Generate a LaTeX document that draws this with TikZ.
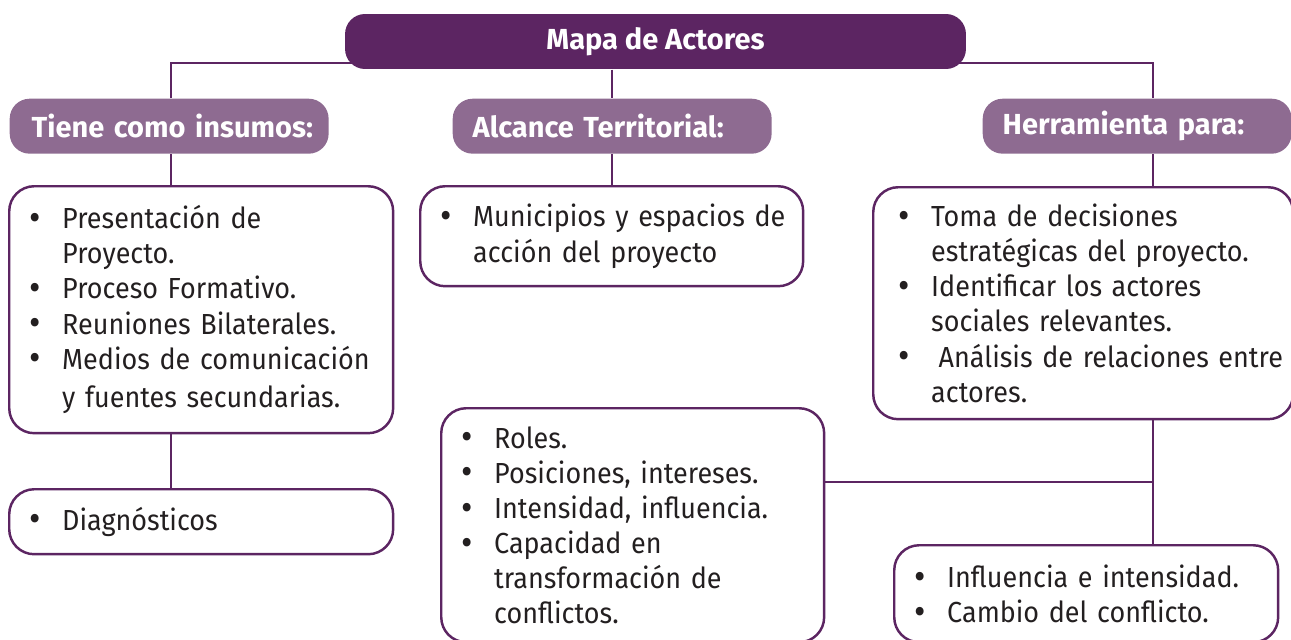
\documentclass[tikz,border=0pt]{standalone}
\usepackage{fontspec}
\setmainfont{Fira Sans}
\newfontfamily\cuerpo{Fira Sans}[FakeStretch=0.93]
\usetikzlibrary{positioning,backgrounds}

\definecolor{moradoosc}{HTML}{5C2562}
\definecolor{moradocl}{HTML}{8E6B91}
\definecolor{texto}{HTML}{231F20}

\newcommand{\itm}[1]{\makebox[0.66cm][l]{\smash{\raisebox{-0.06em}{\scalebox{1.3}{\textbullet}}}}\mbox{#1}}
\newcommand{\sig}[1]{\hspace*{0.66cm}\mbox{#1}}
\newcommand{\letra}{\fontsize{16.5}{20}\selectfont}

\begin{document}
\begin{tikzpicture}[x=0.02cm,y=-0.02cm,thick,
    title node/.style={fill=moradoosc,rounded corners=0.4cm,minimum width=12.42cm,minimum height=1.1cm,font=\letra\bfseries,text=white},
    head node/.style={anchor=north west,fill=moradocl,rounded corners=0.4cm,minimum height=1.1cm,inner xsep=0.4cm,align=left,font=\letra\bfseries,text=white},
    item box/.style={anchor=north west,draw=moradoosc,line width=1.4pt,rounded corners=0.5cm,inner xsep=0.4cm,align=left,font=\letra\cuerpo,text=texto},
    link/.style={draw=moradoosc,line width=1pt}]
    \useasboundingbox (0,0) rectangle (1291,639);

    \node[title node] (title) at (655.5,41.5) {Mapa de Actores};

    \node[head node,text width=5.5cm,inner xsep=0.44cm] (insumos) at (9,98) {\mbox{Tiene como insumos:}};
    \node[head node,text width=5.58cm] (alcance) at (452,98) {\mbox{Alcance Territorial:}};
    \node[head node,text width=5.38cm] (herramienta) at (982,98) {\mbox{Herramienta para:}};

    \node[item box,text width=6.88cm,minimum height=4.94cm] (lista1) at (8,185)
        {\itm{Presentación de}\\ \sig{Proyecto.}\\ \itm{Proceso Formativo.}\\ \itm{Reuniones Bilaterales.}\\ \itm{Medios de comunicación}\\[2pt] \sig{y fuentes secundarias.}};
    \node[item box,text width=6.88cm,minimum height=1.3cm] (diag) at (8,488)
        {\itm{Diagnósticos}};
    \node[item box,text width=6.86cm,minimum height=2cm] (municipios) at (419,185)
        {\itm{Municipios y espacios de}\\ \sig{acción del proyecto}};
    \node[item box,text width=6.86cm,minimum height=4.68cm] (roles) at (440,407)
        {\itm{Roles.}\\ \itm{Posiciones, intereses.}\\ \itm{Intensidad, influencia.}\\ \itm{Capacidad en}\\ \sig{transformación de}\\ \sig{conflictos.}};
    \node[item box,inner xsep=0.5cm,text width=7.4cm,minimum height=4.64cm] (decisiones) at (872,186)
        {\itm{Toma de decisiones}\\ \sig{estratégicas del proyecto.}\\ \itm{Identificar los actores}\\ \sig{sociales relevantes.}\\ \itm{\hspace{0.15cm}Análisis de relaciones entre}\\ \sig{actores.}};
    \node[item box,text width=6.88cm,minimum height=1.94cm] (cambio) at (893,544)
        {\itm{Influencia e intensidad.}\\ \itm{Cambio del conflicto.}};

    \coordinate (busL) at (171,63);
    \coordinate (busR) at (1153,63);
    \coordinate (cruce) at (1153,482);

    \begin{scope}[on background layer]
    \draw[link] (busL |- insumos.north) -- (busL) -- (busR) -- (busR |- herramienta.north);
    \draw[link] (municipios.north |- title.south) -- (municipios.north |- alcance.north);
    \draw[link] (municipios.north |- alcance.south) -- (municipios.north);
    \draw[link] (busL |- insumos.south) -- (busL |- lista1.north);
    \draw[link] (busL |- lista1.south) -- (busL |- diag.north);
    \draw[link] (busR |- herramienta.south) -- (busR |- decisiones.north);
    \draw[link] (busR |- decisiones.south) -- (busR |- cambio.north);
    \draw[link] (cruce -| roles.east) -- (cruce);
    \end{scope}
\end{tikzpicture}
\end{document}
